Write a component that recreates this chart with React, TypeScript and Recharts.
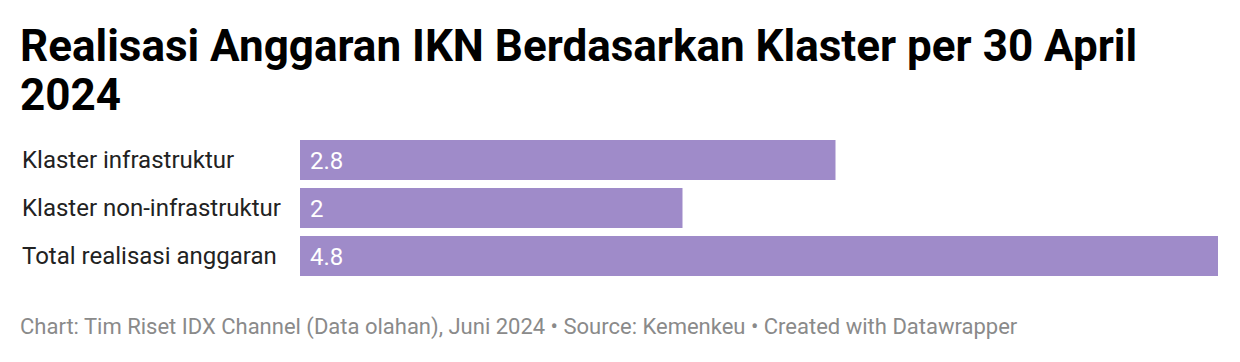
import React from 'react';
import { BarChart, Bar, XAxis, YAxis, LabelList } from 'recharts';

const categories = ['Klaster infrastruktur', 'Klaster non-infrastruktur', 'Total realisasi anggaran'];
const values = [2.8, 2, 4.8];

const data = categories.map((name, i) => ({ name, value: values[i] }));

const font = 'Roboto, "Noto Sans", sans-serif';

const LeftTick = (props: any) => {
  const { y, payload } = props;
  return (
    <text x={22} y={y} dy={8} textAnchor="start" fontSize={24} fill="#222" fontFamily={font}>
      {payload.value}
    </text>
  );
};

export default function App() {
  return (
    <div style={{ position: 'relative', width: 1240, height: 362, background: '#fff', fontFamily: font }}>
      <style>{`body{margin:0}`}</style>
      <div style={{ position: 'absolute', left: 20, top: 22, width: 1200, fontSize: 44, fontWeight: 700, lineHeight: '49px', color: '#000' }}>
        Realisasi Anggaran IKN Berdasarkan Klaster per 30 April 2024
      </div>
      <div style={{ position: 'absolute', left: 0, top: 136 }}>
        <BarChart
          width={1240}
          height={144}
          data={data}
          layout="vertical"
          margin={{ top: 0, right: 22, bottom: 0, left: 0 }}
          barSize={40}
        >
          <XAxis type="number" domain={[0, 4.8]} hide />
          <YAxis type="category" dataKey="name" width={300} axisLine={false} tickLine={false} tick={<LeftTick />} />
          <Bar dataKey="value" fill="#9f8bc9" isAnimationActive={false}>
            <LabelList dataKey="value" position="insideLeft" offset={10} fill="#fff" fontSize={24} fontFamily={font} />
          </Bar>
        </BarChart>
      </div>
      <div style={{ position: 'absolute', left: 20, top: 314, fontSize: 22, color: '#8a8a8a' }}>
        Chart: Tim Riset IDX Channel (Data olahan), Juni 2024 • Source: Kemenkeu • Created with Datawrapper
      </div>
    </div>
  );
}
